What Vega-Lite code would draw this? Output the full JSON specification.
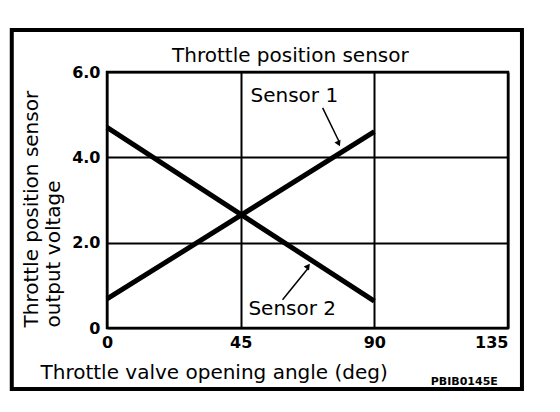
{
  "$schema": "https://vega.github.io/schema/vega-lite/v6.json",
  "width": 401,
  "height": 256,
  "autosize": "none",
  "padding": {"left": 107, "top": 72, "right": 52, "bottom": 84},
  "background": "white",
  "config": {
    "view": {"stroke": "black", "strokeWidth": 2.5},
    "font": "DejaVu Sans"
  },
  "datasets": {
    "one": [{}]
  },
  "layer": [
    {
      "data": {
        "values": [
          {"angle": 0, "voltage": 0.68, "sensor": "Sensor 1"},
          {"angle": 90, "voltage": 4.6, "sensor": "Sensor 1"},
          {"angle": 0, "voltage": 4.7, "sensor": "Sensor 2"},
          {"angle": 90, "voltage": 0.63, "sensor": "Sensor 2"}
        ]
      },
      "mark": {"type": "line", "color": "black", "strokeWidth": 5, "strokeCap": "butt"},
      "encoding": {
        "x": {
          "field": "angle", "type": "quantitative",
          "scale": {"domain": [0, 135], "nice": false, "zero": false},
          "axis": {
            "values": [0, 45, 90, 135],
            "domain": false, "ticks": false,
            "grid": true, "gridColor": "black", "gridWidth": 2, "gridOpacity": 1,
            "labelFont": "DejaVu Sans", "labelFontSize": 16, "labelFontWeight": "bold", "labelColor": "black",
            "labelPadding": 6,
            "labelAlign": {"expr": "datum.value === 135 ? 'right' : 'center'"},
            "title": "Throttle valve opening angle (deg)",
            "titleFont": "DejaVu Sans", "titleFontSize": 20, "titleFontWeight": "normal", "titleColor": "black",
            "titleX": -67, "titleY": 50, "titleAlign": "left", "titleBaseline": "alphabetic", "titleAnchor": null
          }
        },
        "y": {
          "field": "voltage", "type": "quantitative",
          "scale": {"domain": [0, 6], "nice": false, "zero": false},
          "axis": {
            "values": [0, 2, 4, 6],
            "domain": false, "ticks": false,
            "grid": true, "gridColor": "black", "gridWidth": 2, "gridOpacity": 1,
            "labelFont": "DejaVu Sans", "labelFontSize": 16, "labelFontWeight": "bold", "labelColor": "black",
            "labelPadding": 7,
            "labelExpr": "datum.value === 0 ? '0' : format(datum.value, '.1f')",
            "title": ["Throttle position sensor", "output voltage"],
            "titleFont": "DejaVu Sans", "titleFontSize": 20, "titleFontWeight": "normal", "titleColor": "black",
            "titleAngle": -90, "titleX": -70, "titleY": 255, "titleAlign": "left", "titleBaseline": "alphabetic",
            "titleLineHeight": 22, "titleAnchor": null
          }
        },
        "detail": {"field": "sensor"}
      }
    },
    {
      "data": {"name": "one"},
      "mark": {"type": "text", "align": "left", "baseline": "alphabetic", "fontSize": 20, "fontWeight": "normal", "font": "DejaVu Sans", "color": "black"},
      "encoding": {"x": {"datum": 21.9}, "y": {"datum": 6.234}, "text": {"value": "Throttle position sensor"}}
    },
    {
      "data": {"name": "one"},
      "mark": {"type": "text", "align": "left", "baseline": "alphabetic", "fontSize": 20, "fontWeight": "normal", "font": "DejaVu Sans", "color": "black"},
      "encoding": {"x": {"datum": 48.3}, "y": {"datum": 5.3}, "text": {"value": "Sensor 1"}}
    },
    {
      "data": {"name": "one"},
      "mark": {"type": "text", "align": "left", "baseline": "alphabetic", "fontSize": 20, "fontWeight": "normal", "font": "DejaVu Sans", "color": "black"},
      "encoding": {"x": {"datum": 47.6}, "y": {"datum": 0.3}, "text": {"value": "Sensor 2"}}
    },
    {
      "data": {"name": "one"},
      "mark": {"type": "rule", "color": "black", "strokeWidth": 1.5},
      "encoding": {"x": {"datum": 72.6}, "y": {"datum": 5.16}, "x2": {"datum": 78.2}, "y2": {"datum": 4.36}}
    },
    {
      "data": {"name": "one"},
      "mark": {"type": "rule", "color": "black", "strokeWidth": 1.5},
      "encoding": {"x": {"datum": 59.1}, "y": {"datum": 0.66}, "x2": {"datum": 67.9}, "y2": {"datum": 1.42}}
    },
    {
      "data": {"name": "one"},
      "mark": {"type": "point", "shape": "triangle-up", "filled": true, "color": "black", "opacity": 1, "size": 45, "angle": 155},
      "encoding": {"x": {"datum": 78.0}, "y": {"datum": 4.32}}
    },
    {
      "data": {"name": "one"},
      "mark": {"type": "point", "shape": "triangle-up", "filled": true, "color": "black", "opacity": 1, "size": 45, "angle": 37},
      "encoding": {"x": {"datum": 67.7}, "y": {"datum": 1.45}}
    },
    {
      "data": {"name": "one"},
      "mark": {"type": "text", "align": "left", "baseline": "alphabetic", "fontSize": 11, "fontWeight": "bold", "font": "DejaVu Sans", "color": "black"},
      "encoding": {"x": {"datum": 109.0}, "y": {"datum": -1.336}, "text": {"value": "PBIB0145E"}}
    },
    {
      "data": {"name": "one"},
      "mark": {"type": "rect", "fill": null, "fillOpacity": 0, "stroke": "black", "strokeWidth": 4},
      "encoding": {"x": {"datum": -32.06}, "x2": {"datum": 139.7}, "y": {"datum": 6.984}, "y2": {"datum": -1.43}}
    }
  ]
}
